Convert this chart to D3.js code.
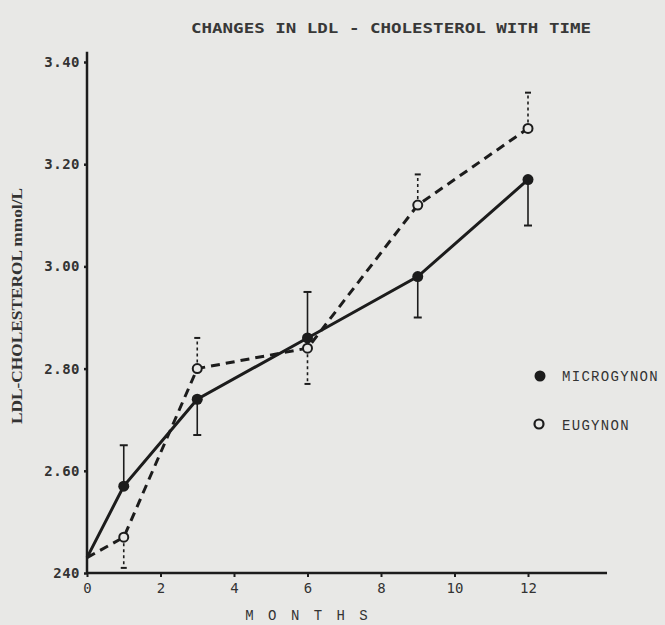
<!DOCTYPE html>
<html>
<head>
<meta charset="utf-8">
<script src="https://cdn.jsdelivr.net/npm/d3@7"></script>
<style>
  html, body { margin: 0; padding: 0; background: #e8e8e6; }
  svg { display: block; }
</style>
</head>
<body>
<script>
// ---- data ----
const months = [0, 1, 3, 6, 9, 12];
const microgynon = [2.43, 2.57, 2.74, 2.86, 2.98, 3.17];
const microgynonBar = [null, 2.65, 2.67, 2.95, 2.90, 3.08];
const eugynon = [2.43, 2.47, 2.80, 2.84, 3.12, 3.27];
const eugynonBar = [null, 2.41, 2.86, 2.77, 3.18, 3.34];
const yTicks = [2.4, 2.6, 2.8, 3.0, 3.2, 3.4];
const yTickLabels = ["240", "2.60", "2.80", "3.00", "3.20", "3.40"];
const xTicks = [0, 2, 4, 6, 8, 10, 12];
const seriesNames = ["MICROGYNON", "EUGYNON"];
const title = "CHANGES IN  LDL - CHOLESTEROL WITH TIME";
const yTitle = "LDL-CHOLESTEROL mmol/L";
const xTitle = "M O N T H S";

const W = 665, H = 625, ink = "#1c1c1c";
const svg = d3.select("body").append("svg").attr("width", W).attr("height", H);
svg.append("rect").attr("width", W).attr("height", H).attr("fill", "#e8e8e6");

const x = d3.scaleLinear().domain([0, 12]).range([87, 528]);
const y = d3.scaleLinear().domain([2.4, 3.4]).range([573, 62]);

// axis lines
svg.append("line").attr("x1", x(0)).attr("x2", x(0)).attr("y1", y(2.4)).attr("y2", y(3.42))
  .attr("stroke", ink).attr("stroke-width", 2.5);
svg.append("line").attr("x1", x(0)).attr("x2", x(14.15)).attr("y1", y(2.4)).attr("y2", y(2.4))
  .attr("stroke", ink).attr("stroke-width", 2.5);

const yAxis = svg.append("g").attr("transform", `translate(${x(0)},0)`)
  .call(d3.axisLeft(y).tickValues(yTicks).tickSize(3).tickPadding(4)
    .tickFormat((d, i) => yTickLabels[i]));
yAxis.select(".domain").remove();
yAxis.selectAll(".tick line").attr("stroke", ink).attr("stroke-width", 2.5);
yAxis.selectAll(".tick text").attr("fill", "#333").style("font-family", "DejaVu Sans Mono")
  .style("font-weight", "bold").style("font-size", "14px").attr("letter-spacing", "0.5px");

const xAxis = svg.append("g").attr("transform", `translate(0,${y(2.4)})`)
  .call(d3.axisBottom(x).tickValues(xTicks).tickSize(4).tickPadding(6));
xAxis.select(".domain").remove();
xAxis.selectAll(".tick line").attr("stroke", ink).attr("stroke-width", 2);
xAxis.selectAll(".tick text").attr("fill", "#333").style("font-family", "DejaVu Sans Mono")
  .style("font-size", "14px");

// titles
svg.append("text").attr("x", 391).attr("y", 33).attr("text-anchor", "middle")
  .attr("textLength", 400).attr("lengthAdjust", "spacingAndGlyphs")
  .style("font-family", "DejaVu Sans Mono").style("font-weight", "bold").style("font-size", "14px")
  .attr("fill", "#383838").text(title);
svg.append("text").attr("transform", "translate(22,306) rotate(-90)").attr("text-anchor", "middle")
  .attr("textLength", 236).attr("lengthAdjust", "spacingAndGlyphs")
  .style("font-family", "Liberation Serif").style("font-weight", "bold").style("font-size", "14px")
  .attr("fill", "#333").text(yTitle);
svg.append("text").attr("x", 308).attr("y", 620).attr("text-anchor", "middle")
  .style("font-family", "Liberation Mono").style("font-size", "14px").attr("letter-spacing", "3px")
  .attr("fill", "#333").text(xTitle);

// lines
const line = d3.line().x(d => x(d[0])).y(d => y(d[1]));
const microPts = months.map((m, i) => [m, microgynon[i]]);
const eugPts = months.map((m, i) => [m, eugynon[i]]);
svg.append("path").attr("d", line(eugPts)).attr("fill", "none").attr("stroke", ink)
  .attr("stroke-width", 3).attr("stroke-dasharray", "9,6");
svg.append("path").attr("d", line(microPts)).attr("fill", "none").attr("stroke", ink)
  .attr("stroke-width", 3);

// error bars
const cap = 4;
months.forEach((m, i) => {
  if (microgynonBar[i] != null) {
    svg.append("line").attr("x1", x(m)).attr("x2", x(m)).attr("y1", y(microgynon[i])).attr("y2", y(microgynonBar[i]))
      .attr("stroke", ink).attr("stroke-width", 1.6);
    svg.append("line").attr("x1", x(m) - cap).attr("x2", x(m) + cap).attr("y1", y(microgynonBar[i])).attr("y2", y(microgynonBar[i]))
      .attr("stroke", ink).attr("stroke-width", 2);
  }
  if (eugynonBar[i] != null) {
    svg.append("line").attr("x1", x(m)).attr("x2", x(m)).attr("y1", y(eugynon[i])).attr("y2", y(eugynonBar[i]))
      .attr("stroke", ink).attr("stroke-width", 1.6).attr("stroke-dasharray", "3,3");
    svg.append("line").attr("x1", x(m) - cap + 1).attr("x2", x(m) + cap - 1).attr("y1", y(eugynonBar[i])).attr("y2", y(eugynonBar[i]))
      .attr("stroke", ink).attr("stroke-width", 2);
  }
});

// markers
svg.selectAll(".m").data(microPts.slice(1)).enter().append("circle")
  .attr("cx", d => x(d[0])).attr("cy", d => y(d[1])).attr("r", 5.5).attr("fill", ink);
svg.selectAll(".e").data(eugPts.slice(1)).enter().append("circle")
  .attr("cx", d => x(d[0])).attr("cy", d => y(d[1])).attr("r", 4.5)
  .attr("fill", "#e8e8e6").attr("stroke", ink).attr("stroke-width", 2);

// legend
svg.append("circle").attr("cx", 540).attr("cy", 376).attr("r", 5.5).attr("fill", ink);
svg.append("circle").attr("cx", 539).attr("cy", 424).attr("r", 4.5).attr("fill", "none")
  .attr("stroke", ink).attr("stroke-width", 2.2);
[seriesNames[0], seriesNames[1]].forEach((n, i) => {
  svg.append("text").attr("x", 562).attr("y", 381 + i * 49)
    .style("font-family", "Liberation Mono").style("font-size", "14px").attr("letter-spacing", "1.3px")
    .attr("fill", "#333").text(n);
});
</script>
</body>
</html>
